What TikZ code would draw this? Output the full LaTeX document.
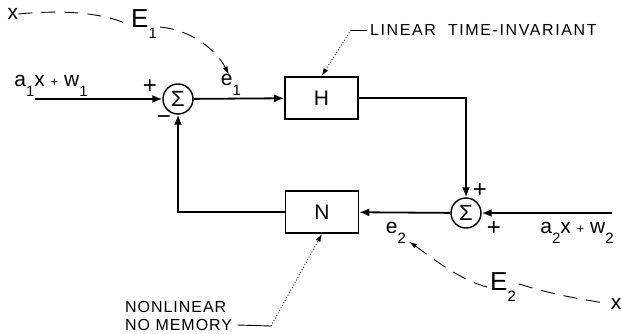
\documentclass[tikz,border=0pt]{standalone}
\usepackage{fontspec}
\setmainfont{Liberation Sans}
\usetikzlibrary{arrows.meta}
\newcommand\sbs[1]{\raisebox{-0.45em}{\fontsize{15}{15}\selectfont #1}}
\newcommand\smp{{\fontsize{13}{13}\selectfont +}}
\begin{document}
\begin{tikzpicture}[x=1pt,y=-1pt,
  blk/.style={draw,line width=1.6pt,minimum width=73pt,minimum height=42pt,inner sep=0pt,font=\fontsize{21}{21}\selectfont},
  sumn/.style={draw,circle,line width=1.4pt,minimum size=30pt,inner sep=0pt,font=\fontsize{22}{22}\selectfont},
  sig/.style={line width=1.8pt,-{Latex[length=10pt,width=8pt]}},
  lbl/.style={inner sep=0pt,font=\fontsize{21}{21}\selectfont},
  big/.style={inner sep=0pt,font=\fontsize{26}{26}\selectfont},
  note/.style={inner sep=0pt,font=\fontsize{16}{16}\selectfont\addfontfeature{LetterSpace=6}},
  wnote/.style={inner sep=0pt,font=\fontsize{16}{16}\selectfont\addfontfeature{LetterSpace=10}},
  sgn/.style={inner sep=0pt,font=\fontsize{24}{24}\selectfont},
  dsh/.style={line width=0.9pt,dash pattern=on 14pt off 9pt},
  dsharr/.style={dsh,-{Latex[length=8pt,width=5pt]}},
  ldr/.style={line width=0.9pt},
  dotarr/.style={line width=0.9pt,dotted,-{Latex[length=8pt,width=5pt]}}
]
\useasboundingbox (0,0) rectangle (622,334);
% blocks
\node[sumn] (s1) at (178,99) {Σ};
\node[blk] (H) at (321.5,98) {H};
\node[blk] (N) at (322,212) {N};
\node[sumn] (s2) at (466,213) {Σ};
\coordinate (in1) at (35,99);
\coordinate (in2) at (612,213);
% signal lines
\draw[sig] (in1) -- (s1);
\draw[sig] (s1) -- (H);
\draw[sig] (H.east) -| (s2);
\draw[sig] (in2) -- (s2);
\draw[sig] (s2) -- (N);
\draw[sig] (N.west) -| (s1);
% labels, loop 1
\node[lbl] (a1) at (51,86) {a\sbs{1}x \smp\ w\sbs{1}};
\node[sgn] (p1) at (150,87) {+};
\node[sgn] (m1) at (164,120) {−};
\node[lbl] (e1) at (231,85) {e\sbs{1}};
\node[big] (E1) at (144,24) {E\sbs{1}};
\node[lbl] (x1) at (13,14) {x};
\draw[dsh] (x1.east) .. controls (60,10) and (100,12) .. ([xshift=-4pt]E1.west);
\draw[dsharr] ([xshift=3pt,yshift=-3pt]E1.east) .. controls (190,30) and (215,48) .. ([xshift=-2pt]e1.north);
% labels, loop 2
\node[sgn] (p2) at (480,191) {+};
\node[sgn] (p3) at (494,229) {+};
\node[lbl] (a2) at (577,233) {a\sbs{2}x \smp\ w\sbs{2}};
\node[lbl] (e2) at (396,233) {e\sbs{2}};
\node[big] (E2) at (503,287) {E\sbs{2}};
\node[lbl] (x2) at (616,304) {x};
\draw[dsharr] ([xshift=-3pt]E2.west) .. controls (460,280) and (432,258) .. ([xshift=3pt,yshift=2pt]e2.south east);
\draw[dsh] ([xshift=3pt,yshift=3pt]E2.east) .. controls (560,297) and (590,300) .. ([xshift=-2pt]x2.west);
% notes
\node[wnote,anchor=west] (lti) at (370,30) {LINEAR\ \ TIME-INVARIANT};
\coordinate (lk) at (351,30);
\draw[ldr] ([xshift=-3pt]lti.west) -- (lk);
\draw[dotarr] (lk) -- (H.north);
\node[note,anchor=west] (nl1) at (125,307) {NONLINEAR};
\node[note,anchor=west] (nl2) at (125,325) {NO\ MEMORY};
\coordinate (nk) at (271,326);
\draw[ldr] ([xshift=5pt]nl2.east) -- (nk);
\draw[dotarr] (nk) -- (N.south);
\end{tikzpicture}
\end{document}
